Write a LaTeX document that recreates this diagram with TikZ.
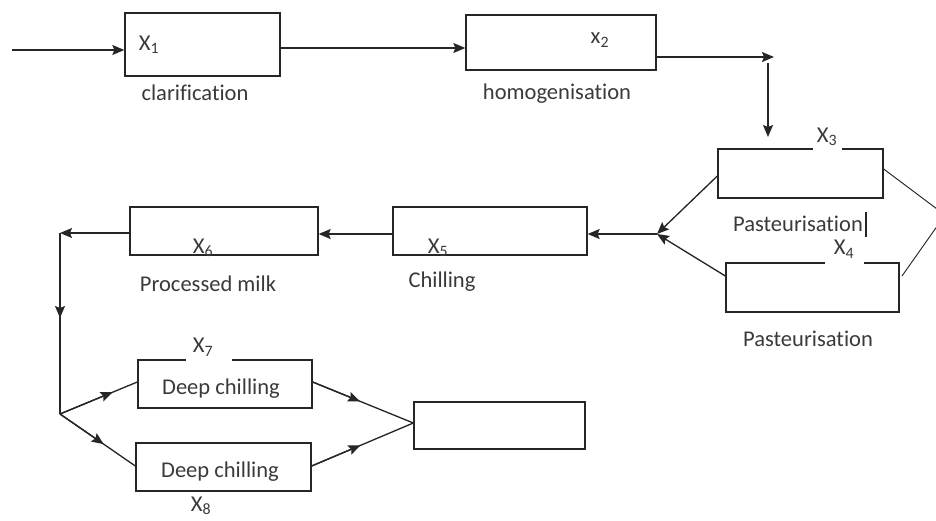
\documentclass[tikz,border=0pt]{standalone}
\usepackage{fontspec}
\setmainfont{Carlito}[Ligatures=NoCommon]
\usetikzlibrary{arrows.meta,calc}
\definecolor{ink}{HTML}{262626}
\definecolor{txt}{HTML}{3A3A3A}
\tikzset{
  box/.style={draw=ink, line width=1pt, rectangle, inner sep=0pt, text=txt, font=\fontsize{16.9}{20}\selectfont},
  lbl/.style={text=txt, inner sep=0pt, font=\fontsize{16.9}{20}\selectfont},
  xlbl/.style={text=txt, inner sep=0pt, font=\fontsize{17}{20}\selectfont},
  ln/.style={draw=ink, line width=1pt},
  arr/.style={ln, -{Stealth[length=9pt,width=7.5pt,inset=1.5pt]}},
}
\begin{document}
\begin{tikzpicture}[x=0.75pt,y=-0.75pt]
\useasboundingbox (0,0) rectangle (936,521);
\begin{scope}
\clip (0,0) rectangle (936,521);
% boxes
\node[box, minimum width=116.25pt, minimum height=47.25pt] (b1) at (202.5,44.5) {};
\node[box, minimum width=142.5pt, minimum height=41.25pt] (b2) at (561,42.5) {};
\node[box, minimum width=123.75pt, minimum height=36.75pt] (b3) at (800.5,173.5) {};
\node[box, minimum width=129.75pt, minimum height=36.75pt] (b4) at (812.5,287.5) {};
\node[box, minimum width=145.5pt, minimum height=36pt] (b5) at (490,231) {};
\node[box, minimum width=141pt, minimum height=36pt] (b6) at (224,231) {};
\node[box, minimum width=130.5pt, minimum height=36pt] (b7) at (225,384) {};
\node[box, minimum width=131.25pt, minimum height=36pt] (b8) at (223.5,467) {};
\node[box, minimum width=128.25pt, minimum height=35.25pt] (f) at (499.5,425.5) {};
% gaps in top edges
\draw[white, line width=2.2pt] (813,149) -- (842,149);
\draw[white, line width=2.2pt] (825,263) -- (864,263);
\draw[white, line width=2.2pt] (186,360) -- (232,360);
% texts
\node[xlbl] (t1) at (149,45) {X\textsubscript{1}};
\node[lbl] (n1) at (195,93) {clarification};
\node[xlbl] (t2) at (600,40) {x\textsubscript{2}};
\node[lbl] (n2) at (557,94) {homogenisation};
\node[xlbl] (t3) at (827,137) {X\textsubscript{3}};
\node[lbl] (n3) at (798,224) {Pasteurisation};
\coordinate (cur1) at (866,212);
\coordinate (cur2) at (866,237);
\draw[ink, line width=0.8pt] (cur1) -- (cur2);
\node[xlbl] (t4) at (844,249) {X\textsubscript{4}};
\node[lbl] (n4) at (808,339) {Pasteurisation};
\node[xlbl] (t5) at (438,248) {X\textsubscript{5}};
\node[lbl] (n5) at (442,282) {Chilling};
\node[xlbl] (t6) at (203,248) {X\textsubscript{6}};
\node[lbl] (n6) at (208,284) {Processed milk};
\node[xlbl] (t7) at (203,347) {X\textsubscript{7}};
\node[lbl] (n7) at (221,389) {Deep chilling};
\node[lbl] (n8) at (220,472) {Deep chilling};
\node[xlbl] (t8) at (201,506) {X\textsubscript{8}};
% connectors
\coordinate (in) at (12,50);
\draw[arr] (in) -- (in -| b1.west);
\draw[arr] (b1.east |- 0,48) -- (b2.west |- 0,48);
\coordinate (c1) at (774,57);
\draw[arr] (b2.east |- c1) -- (c1);
\coordinate (c2) at (768,63);
\coordinate (c3) at (768,137);
\draw[arr] (c2) -- (c3);
\coordinate (m) at (657,234);
\draw[arr] (b3.west |- 0,176) -- (m);
\draw[arr] (b4.west |- 0,276) -- (m);
\coordinate (r) at (945,215);
\draw[ln, line width=0.7pt] (b3.east |- 0,169) -- (r) -- (902,276);
\draw[arr] (m) -- (m -| b5.east);
\draw[arr] (b5.west |- m) -- (b6.east |- m);
\coordinate (k) at (60,233);
\draw[arr] (b6.west |- k) -- (k);
\coordinate (s) at (60,414);
\draw[ln] (k) -- (s);
\draw[arr] (k) -- (60,318);
\coordinate (w7) at (b7.west |- 0,382);
\coordinate (w8) at (b8.west |- 0,466);
\coordinate (e7) at (b7.east |- 0,382);
\coordinate (e8) at (b8.east |- 0,466);
\coordinate (fw) at (f.west |- 0,423);
\draw[ln] (s) -- (w7);
\draw[arr] (s) -- ($(s)!0.68!(w7)$);
\draw[ln] (s) -- (w8);
\draw[arr] (s) -- ($(s)!0.58!(w8)$);
\draw[ln] (e7) -- (fw);
\draw[arr] (e7) -- ($(e7)!0.47!(fw)$);
\draw[ln] (e8) -- (fw);
\draw[arr] (e8) -- ($(e8)!0.48!(fw)$);
\end{scope}
\end{tikzpicture}
\end{document}
